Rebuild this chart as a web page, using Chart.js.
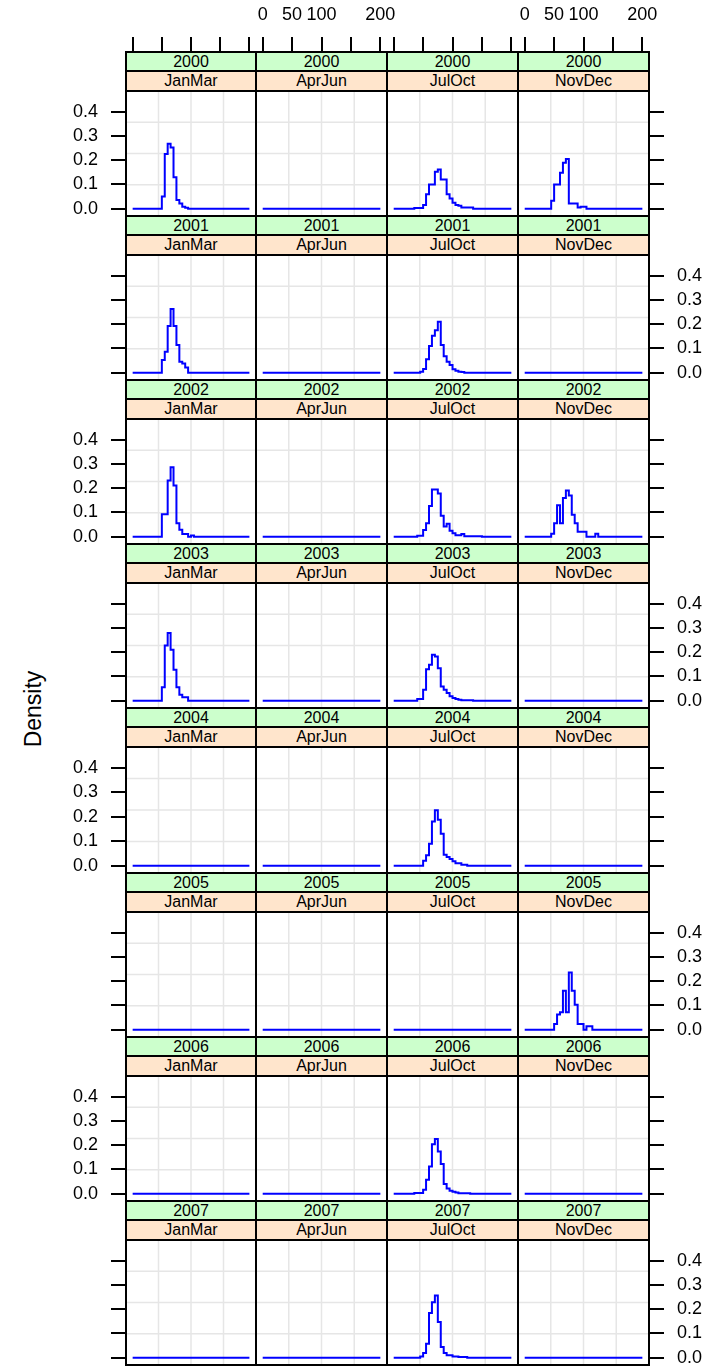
<!DOCTYPE html>
<html>
<head>
<meta charset="utf-8">
<script src="https://cdn.jsdelivr.net/npm/chart.js@4.4.1/dist/chart.umd.min.js"></script>
<style>
  body { margin: 0; background: #fff; width: 707px; height: 1369px; position: relative; overflow: hidden;
         font-family: "Liberation Sans", Arial, sans-serif; }
  canvas { position: absolute; }
  .strip { position: absolute; box-sizing: border-box; border: 2px solid #000; display: flex;
           align-items: center; justify-content: center; font-size: 16px; color: #000; }
  .yr { background: #ccffcc; }
  .ss { background: #ffe5cc; }
  #ylab { position: absolute; left: 33px; top: 709px; transform: translate(-50%, -50%) rotate(-90deg);
          font-size: 23px; white-space: nowrap; }
</style>
</head>
<body>
<div id="ylab">Density</div>
<script>
  // panel layout: years down, seasons across
  const years = ['2000', '2001', '2002', '2003', '2004', '2005', '2006', '2007'];
  const seasons = ['JanMar', 'AprJun', 'JulOct', 'NovDec'];

  const binEdges = [0, 5, 10, 15, 20, 25, 30, 35, 40, 45, 50, 55, 60, 65, 70, 75, 80, 85, 90, 95,
                    100, 105, 110, 115, 120, 125, 130, 135, 140, 145, 150, 155, 160, 165, 170, 175, 180, 185, 190, 195, 200];
  const xTicks = [0, 50, 100, 150, 200];
  const xTickLabels = ['0', '50', '100', '', '200'];
  const yTicks = [0, 0.1, 0.2, 0.3, 0.4];
  const yTickLabels = ['0.0', '0.1', '0.2', '0.3', '0.4'];

  // density per 5-unit bin
  const flat = [0,0,0,0,0,0,0,0,0,0, 0,0,0,0,0,0,0,0,0,0, 0,0,0,0,0,0,0,0,0,0, 0,0,0,0,0,0,0,0,0,0];
  const d2000JanMar = [0,0,0,0,0,0,0,0,0,0, 0,0.05,0.225,0.268,0.252,0.13,0.036,0.022,0.008,0.004,
                       0,0,0,0,0,0,0,0,0,0, 0,0,0,0,0,0,0,0,0,0];
  const d2000JulOct = [0,0,0,0,0,0,0,0,0.003,0.003, 0.003,0.015,0.06,0.1,0.1,0.152,0.162,0.12,0.12,0.06,
                       0.042,0.025,0.015,0.012,0.005,0.005,0.005,0.005,0,0, 0,0,0,0,0,0,0,0,0,0];
  const d2000NovDec = [0,0,0,0,0,0,0,0,0,0, 0.033,0.1,0.1,0.148,0.189,0.205,0.022,0.022,0.022,0.005,
                       0.008,0.008,0,0,0,0,0,0,0,0, 0,0,0,0,0,0,0,0,0,0];
  const d2001JanMar = [0,0,0,0,0,0,0,0,0,0, 0,0.052,0.086,0.192,0.263,0.192,0.114,0.045,0.038,0.022,
                       0,0,0,0,0,0,0,0,0,0, 0,0,0,0,0,0,0,0,0,0];
  const d2001JulOct = [0,0,0,0,0,0,0,0,0,0, 0.004,0.015,0.055,0.11,0.152,0.175,0.21,0.114,0.068,0.045,
                       0.032,0.014,0.008,0.004,0.003,0,0,0,0,0, 0,0,0,0,0,0,0,0,0,0];
  const d2002JanMar = [0,0,0,0,0,0,0,0,0,0, 0,0.093,0.093,0.232,0.286,0.211,0.056,0.029,0.011,0.011,
                       0,0.005,0,0,0,0,0,0,0,0, 0,0,0,0,0,0,0,0,0,0];
  const d2002JulOct = [0,0,0,0,0,0,0,0,0,0.004, 0.004,0.028,0.055,0.127,0.195,0.195,0.178,0.086,0.042,0.053,
                       0.025,0.014,0.006,0.006,0.011,0.002,0.002,0.002,0.002,0.002, 0.002,0,0,0,0,0,0,0,0,0];
  const d2002NovDec = [0,0,0,0,0,0,0,0,0,0, 0.012,0.056,0.13,0.055,0.16,0.19,0.17,0.09,0.055,0.02,
                       0.02,0.02,0,0,0,0.012,0,0,0,0, 0,0,0,0,0,0,0,0,0,0];
  const d2003JanMar = [0,0,0,0,0,0,0,0,0,0, 0,0.056,0.228,0.279,0.21,0.128,0.056,0.025,0.014,0.014,
                       0,0,0,0,0,0,0,0,0,0, 0,0,0,0,0,0,0,0,0,0];
  const d2003JulOct = [0,0,0,0,0,0,0,0,0,0.007, 0.007,0.045,0.13,0.148,0.189,0.182,0.134,0.059,0.045,0.032,
                       0.018,0.011,0.007,0.004,0.002,0.002,0.002,0.002,0,0, 0,0,0,0,0,0,0,0,0,0];
  const d2004JulOct = [0,0,0,0,0,0,0,0,0,0, 0,0.02,0.043,0.09,0.18,0.226,0.188,0.13,0.045,0.035,
                       0.027,0.018,0.01,0.01,0.004,0.004,0,0,0,0, 0,0,0,0,0,0,0,0,0,0];
  const d2005NovDec = [0,0,0,0,0,0,0,0,0,0, 0,0.024,0.063,0.072,0.161,0.072,0.236,0.161,0.103,0.024,
                       0.024,0,0.014,0.014,0,0,0,0,0,0, 0,0,0,0,0,0,0,0,0,0];
  const d2006JulOct = [0,0,0,0,0,0,0,0,0.003,0.003, 0.003,0.016,0.058,0.112,0.204,0.225,0.174,0.122,0.04,0.022,
                       0.012,0.008,0.005,0.002,0.002,0.002,0.002,0,0,0, 0,0,0,0,0,0,0,0,0,0];
  const d2007JulOct = [0,0,0,0,0,0,0,0,0,0, 0.005,0.019,0.058,0.184,0.229,0.256,0.147,0.044,0.019,0.01,
                       0.01,0.005,0.005,0.003,0.003,0.003,0,0,0,0, 0,0,0,0,0,0,0,0,0,0];

  const panelSeries = [
    [d2000JanMar, flat, d2000JulOct, d2000NovDec],
    [d2001JanMar, flat, d2001JulOct, flat],
    [d2002JanMar, flat, d2002JulOct, d2002NovDec],
    [d2003JanMar, flat, d2003JulOct, flat],
    [flat, flat, d2004JulOct, flat],
    [flat, flat, flat, d2005NovDec],
    [flat, flat, d2006JulOct, flat],
    [flat, flat, d2007JulOct, flat]
  ];

  // geometry of the lattice
  const colEdges = [126, 256, 387, 518, 649];
  const stripTop = r => Math.round(52 + r * 164.1);
  const FONT = { family: '"Liberation Sans", Arial, sans-serif', size: 18 };

  // light grid at quarters + black panel frame
  const panelDeco = {
    id: 'panelDeco',
    beforeDatasetsDraw(chart) {
      const { ctx, chartArea: a } = chart;
      ctx.save();
      ctx.strokeStyle = '#e6e6e6';
      ctx.lineWidth = 1.5;
      for (let k = 1; k < 4; k++) {
        const x = a.left + a.width * k / 4, y = a.top + a.height * k / 4;
        ctx.beginPath(); ctx.moveTo(x, a.top); ctx.lineTo(x, a.bottom); ctx.stroke();
        ctx.beginPath(); ctx.moveTo(a.left, y); ctx.lineTo(a.right, y); ctx.stroke();
      }
      ctx.restore();
    },
    afterDraw(chart) {
      const { ctx, chartArea: a } = chart;
      ctx.save();
      ctx.strokeStyle = '#000';
      ctx.lineWidth = 2;
      ctx.strokeRect(a.left, a.top, a.right - a.left, a.bottom - a.top);
      ctx.restore();
    }
  };

  function makePanel(r, c) {
    const st = stripTop(r), pTop = st + 39, pBot = stripTop(r + 1);
    const left = c === 0 ? 0 : colEdges[c] - 20;
    const right = c === 3 ? 707 : colEdges[c + 1] + 20;
    const top = r === 0 ? 0 : pTop - 2;
    const bottom = pBot + 2;

    const cv = document.createElement('canvas');
    cv.width = right - left; cv.height = bottom - top;
    cv.style.left = left + 'px'; cv.style.top = top + 'px';
    cv.style.width = (right - left) + 'px'; cv.style.height = (bottom - top) + 'px';
    document.body.appendChild(cv);

    const topAxis = r === 0;
    const sideAxis = c === 0 || c === 3;
    const yLabelled = (c === 0 && r % 2 === 0) || (c === 3 && r % 2 === 1);
    const vals = panelSeries[r][c];

    new Chart(cv, {
      type: 'line',
      data: {
        datasets: [{
          data: binEdges.map((x, i) => ({ x: x, y: vals[Math.min(i, vals.length - 1)] })),
          borderColor: '#0000ff',
          borderWidth: 2,
          pointRadius: 0,
          stepped: 'after',
          fill: false
        }]
      },
      options: {
        responsive: false,
        animation: false,
        events: [],
        layout: { padding: { left: c === 0 ? 0 : 20, right: c === 3 ? 0 : 20, top: r === 0 ? 0 : 2, bottom: 2 } },
        plugins: { legend: { display: false }, tooltip: { enabled: false } },
        scales: {
          x: {
            type: 'linear', min: -11.4, max: 211.3, position: 'top', display: topAxis, weight: 2,
            afterBuildTicks: s => { s.ticks = xTicks.map(v => ({ value: v })); },
            afterFit: s => { s.height = topAxis ? 52 : 0; s.paddingLeft = 0; s.paddingRight = 0; },
            grid: { drawOnChartArea: false, tickLength: 15, color: '#000', lineWidth: 2 },
            border: { display: false },
            ticks: { padding: 11, color: '#000', font: FONT, maxRotation: 0, autoSkip: false,
                     callback: (v, i) => (c % 2 === 1 ? xTickLabels[i] : '') }
          },
          strip: {
            type: 'linear', position: 'top', display: topAxis, weight: 1,
            grid: { display: false }, ticks: { display: false }, border: { display: false },
            afterFit: s => { s.height = topAxis ? 39 : 0; s.paddingLeft = 0; s.paddingRight = 0; }
          },
          y: {
            type: 'linear', min: -0.03, max: 0.485, position: c === 3 ? 'right' : 'left',
            display: sideAxis,
            afterBuildTicks: s => { s.ticks = yTicks.map(v => ({ value: v })); },
            afterFit: s => { s.width = c === 0 ? 126 : (c === 3 ? 58 : 0); s.paddingTop = 0; s.paddingBottom = 0; },
            grid: { drawOnChartArea: false, tickLength: 15, color: '#000', lineWidth: 2 },
            border: { display: false },
            ticks: { padding: 13, color: '#000', font: FONT,
                     callback: (v, i) => (yLabelled ? yTickLabels[i] : '') }
          }
        }
      },
      plugins: [panelDeco]
    });

    const w = colEdges[c + 1] - colEdges[c];
    const g = document.createElement('div');
    g.className = 'strip yr';
    g.style.cssText = `left:${colEdges[c] - 1}px;top:${st - 1}px;width:${w + 2}px;height:21px;`;
    g.textContent = years[r];
    document.body.appendChild(g);
    const p = document.createElement('div');
    p.className = 'strip ss';
    p.style.cssText = `left:${colEdges[c] - 1}px;top:${st + 18}px;width:${w + 2}px;height:22px;`;
    p.textContent = seasons[c];
    document.body.appendChild(p);
  }

  for (let r = 0; r < years.length; r++) {
    for (let c = 0; c < seasons.length; c++) makePanel(r, c);
  }
</script>
</body>
</html>
